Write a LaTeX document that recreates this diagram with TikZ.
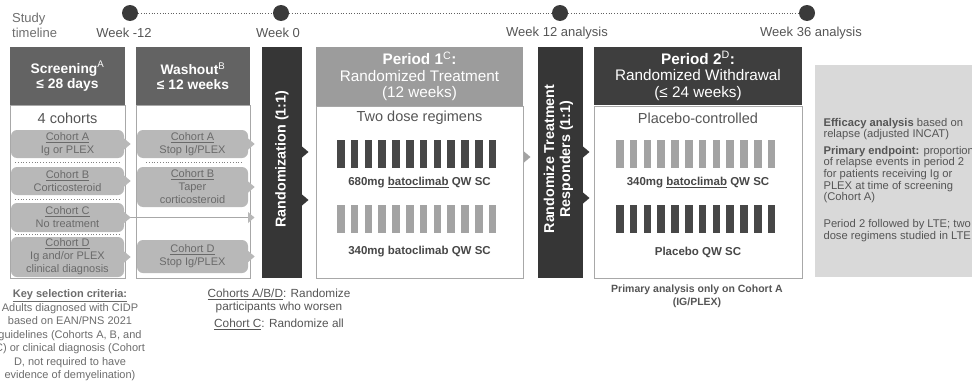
\documentclass[tikz,border=0pt]{standalone}
\usepackage{fontspec}
\setmainfont{Liberation Sans}
\definecolor{hdrA}{HTML}{636363}
\definecolor{randbar}{HTML}{363636}
\definecolor{p1hdr}{HTML}{9C9C9C}
\definecolor{p2hdr}{HTML}{3E3E3E}
\definecolor{pillc}{HTML}{B8B8B8}
\definecolor{pilltxt}{HTML}{6A6A6A}
\definecolor{boxline}{HTML}{A8A8A8}
\definecolor{darkbar}{HTML}{474747}
\definecolor{lightbar}{HTML}{A3A3A3}
\definecolor{sidebox}{HTML}{D9D9D9}
\definecolor{txt}{HTML}{555555}
\definecolor{dotc}{HTML}{3A3A3A}
\newcommand\rtip[2]{\fill[#2] ([yshift=5.5pt]#1) -- ([xshift=6.5pt]#1) -- ([yshift=-5.5pt]#1) -- cycle;}
\begin{document}
\begin{tikzpicture}[x=1pt,y=-1pt,
  hdr/.style={rectangle, inner sep=0pt, text=white, align=center, font=\fontsize{13.8}{15}\selectfont\bfseries},
  phdr/.style={rectangle, inner sep=0pt, text=white, align=center, font=\fontsize{15.3}{16.5}\selectfont},
  bodybox/.style={rectangle, draw=boxline, line width=0.8pt, fill=white, inner sep=0pt},
  pill/.style={rectangle, rounded corners=6pt, fill=pillc, text=pilltxt, align=center, inner sep=0pt, font=\fontsize{11}{13}\selectfont},
  vbar/.style={rectangle, fill=randbar, inner sep=0pt},
  vtext/.style={rotate=90, text=white, align=center, font=\fontsize{14.3}{16}\selectfont\bfseries},
  small/.style={text=txt, align=center, font=\fontsize{11}{13.5}\selectfont},
  big/.style={text=txt, align=center, font=\fontsize{14.5}{16}\selectfont},
  dose/.style={text=darkbar, align=center, font=\fontsize{11.5}{13}\selectfont\bfseries},
  dot/.style={circle, fill=dotc, minimum size=16pt, inner sep=0pt},
  wk/.style={text=txt, font=\fontsize{13}{15}\selectfont},
  sep/.style={draw=gray, dotted, line width=0.8pt},
  side/.style={text=txt, align=left, anchor=west, font=\fontsize{11.2}{11.6}\selectfont}
]
\useasboundingbox (0,0) rectangle (972,388);

% timeline
\node[dot] (t1) at (130,13) {};
\node[dot] (t2) at (281,13) {};
\node[dot] (t3) at (560,13) {};
\node[dot] (t4) at (807,13) {};
\draw[dotc!80, dotted, line width=0.7pt] (t1) -- (t2) -- (t3) -- (t4);
\node[wk, text=txt!85, align=left, anchor=west, inner sep=0pt] (stl) at (12,25.5) {Study\\timeline};
\node[wk] (w1) at (124,33) {Week -12};
\node[wk] (w2) at (278,33) {Week 0};
\node[wk] (w3) at (557,33) {Week 12 analysis};
\node[wk] (w4) at (811,33) {Week 36 analysis};

% Screening
\node[bodybox, minimum width=115pt, minimum height=173pt] (scrB) at (67.5,191.5) {};
\node[hdr, fill=hdrA, minimum width=115pt, minimum height=58pt] (scrH) at (67.5,76) {Screening\textsuperscript{\mdseries A}\\≤ 28 days};
\node[big] (four) at (67.5,118) {4 cohorts};
\node[pill, minimum width=113pt, minimum height=28pt] (sA) at (67.5,144) {\underline{Cohort A}\\Ig or PLEX};
\node[pill, minimum width=113pt, minimum height=28pt] (sB) at (67.5,181) {\underline{Cohort B}\\Corticosteroid};
\node[pill, minimum width=113pt, minimum height=29pt] (sC) at (67.5,217.5) {\underline{Cohort C}\\No treatment};
\node[pill, minimum width=113pt, minimum height=40pt] (sD) at (67.5,257) {\underline{Cohort D}\\Ig and/or PLEX\\clinical diagnosis};
\rtip{sA.east}{pillc}
\rtip{sB.east}{pillc}
\rtip{sD.east}{pillc}
\coordinate (s1a) at (15,162.5); \coordinate (s1b) at (120,162.5);
\coordinate (s2a) at (15,199); \coordinate (s2b) at (120,199);
\coordinate (s3a) at (15,234.5); \coordinate (s3b) at (120,234.5);
\draw[sep] (s1a) -- (s1b);
\draw[sep] (s2a) -- (s2b);
\draw[sep] (s3a) -- (s3b);

% Washout
\node[bodybox, minimum width=114pt, minimum height=173pt] (wasB) at (193,191.5) {};
\node[hdr, fill=hdrA, minimum width=114pt, minimum height=58pt] (wasH) at (193,76) {Washout\textsuperscript{\mdseries B}\\≤ 12 weeks};
\node[pill, minimum width=111pt, minimum height=28pt] (wA) at (192.5,144) {\underline{Cohort A}\\Stop Ig/PLEX};
\node[pill, minimum width=111pt, minimum height=40pt] (wB) at (192.5,187) {\underline{Cohort B}\\Taper\\corticosteroid};
\node[pill, minimum width=111pt, minimum height=33pt] (wD) at (192.5,256.5) {\underline{Cohort D}\\Stop Ig/PLEX};
\coordinate (w1a) at (146,162.5); \coordinate (w1b) at (243,162.5);
\draw[sep] (w1a) -- (w1b);
\coordinate (wC) at (248,217.5);
\draw[boxline, line width=0.9pt] (sC.east) -- (wC);
\rtip{sC.east}{pillc}
\rtip{wA.east}{pillc}
\rtip{wB.east}{pillc}
\rtip{wC}{pillc}
\rtip{wD.east}{pillc}

% Randomization bar
\node[vbar, minimum width=40pt, minimum height=231pt] (rand) at (282,162.5) {};
\node[vtext] (randT) at (282,159) {Randomization (1:1)};
\coordinate (r1) at (302,152); \coordinate (r2) at (302,200);
\rtip{r1}{randbar}
\rtip{r2}{randbar}

% Period 1
\node[bodybox, minimum width=207pt, minimum height=172pt] (p1B) at (419.5,192) {};
\node[phdr, fill=p1hdr, minimum width=207pt, minimum height=59pt] (p1H) at (419.5,76.5) {\textbf{Period 1\textsuperscript{\mdseries C}:}\\Randomized Treatment\\(12 weeks)};
\node[big] (p1t) at (419.5,118) {Two dose regimens};
\foreach \i in {0,...,11} {
  \fill[darkbar] (337+13.8*\i,140) rectangle ++(7.5,28);
  \fill[lightbar] (337+13.8*\i,205) rectangle ++(7.5,28);
}
\node[dose] (p1a) at (419.5,183) {680mg \underline{batoclimab} QW SC};
\node[dose] (p1b) at (419.5,252) {340mg batoclimab QW SC};
\coordinate (p1e) at (524,157);
\rtip{p1e}{lightbar}

% Responders bar
\node[vbar, minimum width=45pt, minimum height=231pt] (resp) at (560.5,162.5) {};
\node[vtext] (respT) at (558.5,159) {Randomize Treatment\\Responders (1:1)};
\coordinate (q1) at (583,152); \coordinate (q2) at (583,198);
\rtip{q1}{randbar}
\rtip{q2}{randbar}

% Period 2
\node[bodybox, minimum width=208pt, minimum height=172pt] (p2B) at (698,192) {};
\node[phdr, fill=p2hdr, minimum width=208pt, minimum height=58pt] (p2H) at (698,76) {\textbf{Period 2\textsuperscript{\mdseries D}:}\\Randomized Withdrawal\\(≤ 24 weeks)};
\node[big] (p2t) at (698,118) {Placebo-controlled};
\foreach \i in {0,...,11} {
  \fill[lightbar] (616+13.8*\i,140) rectangle ++(7.5,28);
  \fill[darkbar] (616+13.8*\i,205) rectangle ++(7.5,28);
}
\node[dose] (p2a) at (698,183) {340mg \underline{batoclimab} QW SC};
\node[dose] (p2b) at (698,252) {Placebo QW SC};
\node[text=txt, align=center, font=\fontsize{10.5}{13}\selectfont\bfseries] (prim) at (697,296.5) {Primary analysis only on Cohort A\\(IG/PLEX)};

% side box
\node[fill=sidebox, minimum width=175pt, minimum height=212pt, anchor=north west, inner sep=0pt] (side) at (815,65) {};
\node[side] (e1) at (820,129) {\textbf{Efficacy analysis} based on\\relapse (adjusted INCAT)};
\node[side] (e2) at (820,174.5) {\textbf{Primary endpoint:} proportion\\of relapse events in period 2\\for patients receiving Ig or\\PLEX at time of screening\\(Cohort A)};
\node[side] (e3) at (820,230.5) {Period 2 followed by LTE; two\\dose regimens studied in LTE};

% notes
\node[small, text=darkbar!80] (key) at (70,335.5) {\textbf{\underline{Key selection criteria:}}\\Adults diagnosed with CIDP\\based on EAN/PNS 2021\\guidelines (Cohorts A, B, and\\C) or clinical diagnosis (Cohort\\D, not required to have\\evidence of demyelination)};
\node[small, font=\fontsize{11.8}{12.5}\selectfont] (n1) at (279,301) {\underline{Cohorts A/B/D}: Randomize\\participants who worsen};
\node[small, font=\fontsize{11.8}{12.5}\selectfont] (n2) at (279,324) {\underline{Cohort C}: Randomize all};
\end{tikzpicture}
\end{document}
